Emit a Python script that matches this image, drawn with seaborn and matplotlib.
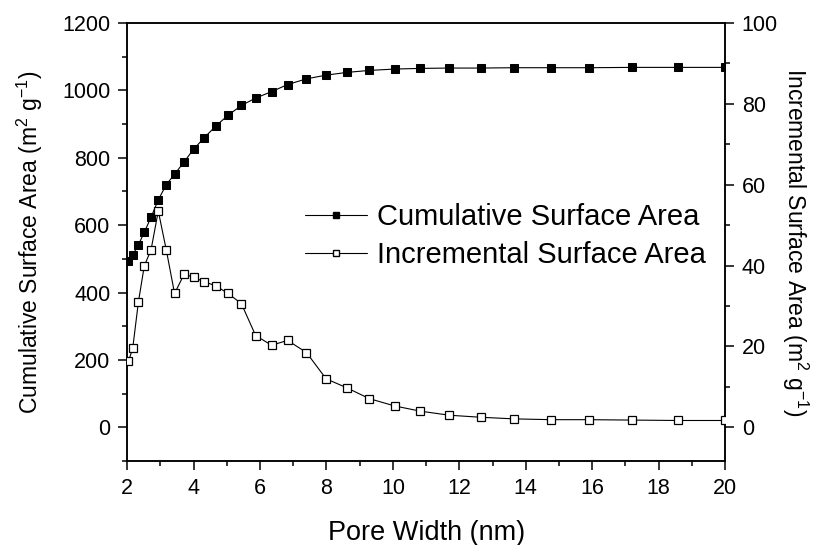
import numpy as np
import pandas as pd
import matplotlib
matplotlib.use("Agg")
import matplotlib.pyplot as plt
from matplotlib.ticker import MultipleLocator
from matplotlib.lines import Line2D
import seaborn as sns

# ---------------- DATA ----------------
pore_width = [2.04, 2.17, 2.34, 2.52, 2.72, 2.94, 3.18, 3.43, 3.72, 4.00,
              4.32, 4.67, 5.04, 5.44, 5.87, 6.35, 6.83, 7.40, 7.99, 8.61,
              9.29, 10.05, 10.83, 11.70, 12.64, 13.64, 14.77, 15.91, 17.20,
              18.58, 20.00]
cumulative = [494, 511, 541, 579, 623, 675, 720, 751, 788, 825,
              859, 894, 926, 955, 977, 996, 1017, 1034, 1045, 1053,
              1059, 1063, 1065, 1066, 1066, 1067, 1067, 1067, 1068,
              1068, 1068]
incremental = [16.3, 19.5, 30.9, 40.0, 43.8, 53.5, 43.9, 33.1, 37.9, 37.1,
               36.0, 35.0, 33.1, 30.6, 22.7, 20.3, 21.5, 18.5, 12.0, 9.8,
               7.1, 5.3, 4.0, 3.0, 2.5, 2.1, 1.9, 1.9, 1.8,
               1.7, 1.7]

df = pd.DataFrame({"width": pore_width, "cum": cumulative, "inc": incremental})

# ---------------- STYLE ----------------
sns.set_style("ticks")
plt.rcParams["font.family"] = ["Liberation Sans", "DejaVu Sans"]
plt.rcParams["mathtext.fontset"] = "custom"
plt.rcParams["mathtext.rm"] = "Liberation Sans"
plt.rcParams["mathtext.it"] = "Liberation Sans"
plt.rcParams["mathtext.default"] = "regular"
plt.rcParams["text.color"] = "black"
plt.rcParams["axes.labelcolor"] = "black"
plt.rcParams["xtick.color"] = "black"
plt.rcParams["ytick.color"] = "black"

fig = plt.figure(figsize=(8.25, 5.45), dpi=100)
ax = fig.add_axes([0.154, 0.154, 0.725, 0.804])
ax2 = ax.twinx()

# ---------------- PLOT ----------------
sns.lineplot(x="width", y="cum", data=df, ax=ax, color="black", lw=0.8,
             marker="s", markersize=5.5, markerfacecolor="black",
             markeredgecolor="black", zorder=3)
sns.lineplot(x="width", y="inc", data=df, ax=ax2, color="black", lw=0.8,
             marker="s", markersize=5.5, markerfacecolor="white",
             markeredgecolor="black", markeredgewidth=0.9, zorder=3)

ax.set_xlim(2, 20)
ax.set_ylim(-100, 1200)
ax2.set_ylim(-100 / 12, 100)

ax.xaxis.set_major_locator(MultipleLocator(2))
ax.xaxis.set_minor_locator(MultipleLocator(1))
ax.yaxis.set_major_locator(MultipleLocator(200))
ax.yaxis.set_minor_locator(MultipleLocator(100))
ax2.yaxis.set_major_locator(MultipleLocator(20))
ax2.yaxis.set_minor_locator(MultipleLocator(10))

for a in (ax, ax2):
    for s in a.spines.values():
        s.set_linewidth(1.1)
        s.set_color("black")
    a.tick_params(which="major", length=6.5, width=1.1, direction="out",
                  labelsize=15.5, pad=5.5, colors="black")
    a.tick_params(which="minor", length=3.5, width=1.1, direction="out")

ax.set_xlabel("Pore Width (nm)", fontsize=19.5, labelpad=15, color="black")
ax.set_ylabel("Cumulative Surface Area (m$^2$ g$^{-1}$)", fontsize=16.5,
              labelpad=12, color="black")
ax2.set_ylabel("Incremental Surface Area (m$^2$ g$^{-1}$)", fontsize=16.5,
               rotation=270, labelpad=23, color="black")

# ---------------- LEGEND ----------------
handles = [
    Line2D([], [], color="black", lw=0.8, marker="s", markersize=4.5,
           markerfacecolor="black", markeredgecolor="black"),
    Line2D([], [], color="black", lw=0.8, marker="s", markersize=4.5,
           markerfacecolor="white", markeredgecolor="black"),
]
leg = ax2.legend(handles, ["Cumulative Surface Area", "Incremental Surface Area"],
                 loc="center left", bbox_to_anchor=(0.298, 0.513), frameon=False,
                 fontsize=21, handlelength=2.1, handletextpad=0.35,
                 labelspacing=0.35, borderpad=0, borderaxespad=0)
for t in leg.get_texts():
    t.set_color("black")

fig.savefig("out.png", dpi=100)
